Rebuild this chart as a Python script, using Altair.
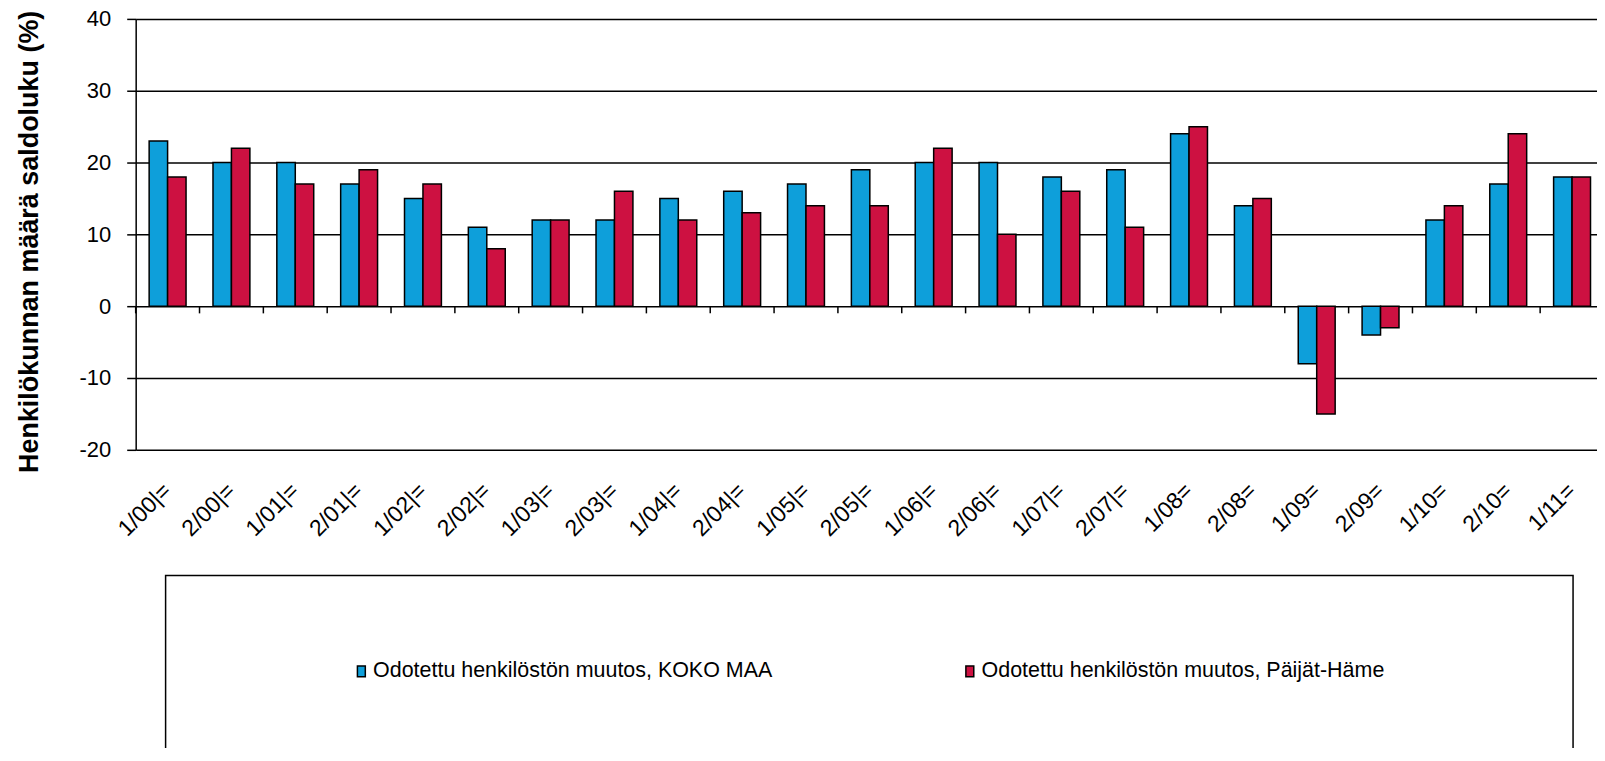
import altair as alt
import pandas as pd

categories = ["1/00|=", "2/00|=", "1/01|=", "2/01|=", "1/02|=", "2/02|=", "1/03|=", "2/03|=",
              "1/04|=", "2/04|=", "1/05|=", "2/05|=", "1/06|=", "2/06|=", "1/07|=", "2/07|=",
              "1/08=", "2/08=", "1/09=", "2/09=", "1/10=", "2/10=", "1/11="]
koko_maa = [23, 20, 20, 17, 15, 11, 12, 12, 15, 16, 17, 19, 20, 20, 18, 19, 24, 14, -8, -4, 12, 17, 18]
paijat_hame = [18, 22, 17, 19, 17, 8, 12, 16, 12, 13, 14, 14, 22, 10, 16, 11, 25, 15, -15, -3, 14, 24, 18]
series_names = ["Odotettu henkilöstön muutos, KOKO MAA", "Odotettu henkilöstön muutos, Päijät-Häme"]
series_colors = ["#0E9FDA", "#CD1141"]
y_ticks = [-20, -10, 0, 10, 20, 30, 40]
y_title = "Henkilökunnan määrä saldoluku (%)"

FONT = "Liberation Sans"

rows = []
for c, a, b in zip(categories, koko_maa, paijat_hame):
    rows.append({"kausi": c, "sarja": series_names[0], "arvo": a})
    rows.append({"kausi": c, "sarja": series_names[1], "arvo": b})
df = pd.DataFrame(rows)

x_scale = alt.Scale(paddingInner=0, paddingOuter=0, range=[0, 1472])

bars = alt.Chart(df).mark_bar(stroke="black", strokeWidth=1.5).encode(
    x=alt.X("kausi:N", sort=categories, scale=x_scale,
            axis=alt.Axis(title=None, labelAngle=-45, labelAlign="right", labelBaseline="middle",
                          labelPadding=37, ticks=False, tickSize=0, domain=False,
                          labelFontSize=23, labelColor="black", labelFont=FONT,
                          labelOverlap=False, labelFlush=False, labelBound=False)),
    xOffset=alt.XOffset("sarja:N", sort=series_names,
                        scale=alt.Scale(paddingInner=0, paddingOuter=0.73)),
    y=alt.Y("arvo:Q", scale=alt.Scale(domain=[-20, 40], nice=False, zero=False),
            axis=alt.Axis(values=y_ticks, grid=True, gridColor="black", gridWidth=1.5,
                          domainColor="black", domainWidth=1.5, tickColor="black",
                          tickWidth=1.5, tickSize=9, labelFontSize=22, labelPadding=16,
                          labelColor="black", labelFont=FONT,
                          labelExpr="datum.value + ''",
                          title=y_title, titleFont=FONT, titleFontSize=27,
                          titleFontWeight="bold", titleColor="black",
                          titleX=-106, titleY=223, titleAngle=-90,
                          titleAlign="center", titleBaseline="middle")),
    color=alt.Color("sarja:N", sort=series_names,
                    scale=alt.Scale(domain=series_names, range=series_colors),
                    legend=alt.Legend(title=None, orient="none", legendX=215.5, legendY=643,
                                      direction="horizontal", columns=2, columnPadding=187,
                                      symbolType="M-0.72,-1H0.72V1H-0.72Z", symbolSize=121,
                                      symbolStrokeColor="black", symbolStrokeWidth=1.5,
                                      labelFontSize=21.5, labelFont=FONT, labelColor="black",
                                      labelOffset=1, labelLimit=0)),
)

ticks = alt.Chart(pd.DataFrame({"kausi": categories})).mark_rule(
    color="black", strokeWidth=1.5).encode(
    x=alt.X("kausi:N", sort=categories, bandPosition=0),
    y=alt.datum(0),
    y2=alt.datum(-1),
)

box = alt.Chart(pd.DataFrame({"k": [0]})).mark_rect(
    fill="white", fillOpacity=0, stroke="black", strokeWidth=1.5).encode(
    x=alt.value(30), x2=alt.value(1441), y=alt.value(558), y2=alt.value(800))

chart = alt.layer(box, bars, ticks).properties(
    width=1465, height=432,
    autosize=alt.AutoSizeParams(type="none"),
    padding={"left": 128, "top": 10, "right": 0, "bottom": 298},
).configure_view(stroke=None)

chart.save("out.html", embed_options={"renderer": "svg", "actions": False})
